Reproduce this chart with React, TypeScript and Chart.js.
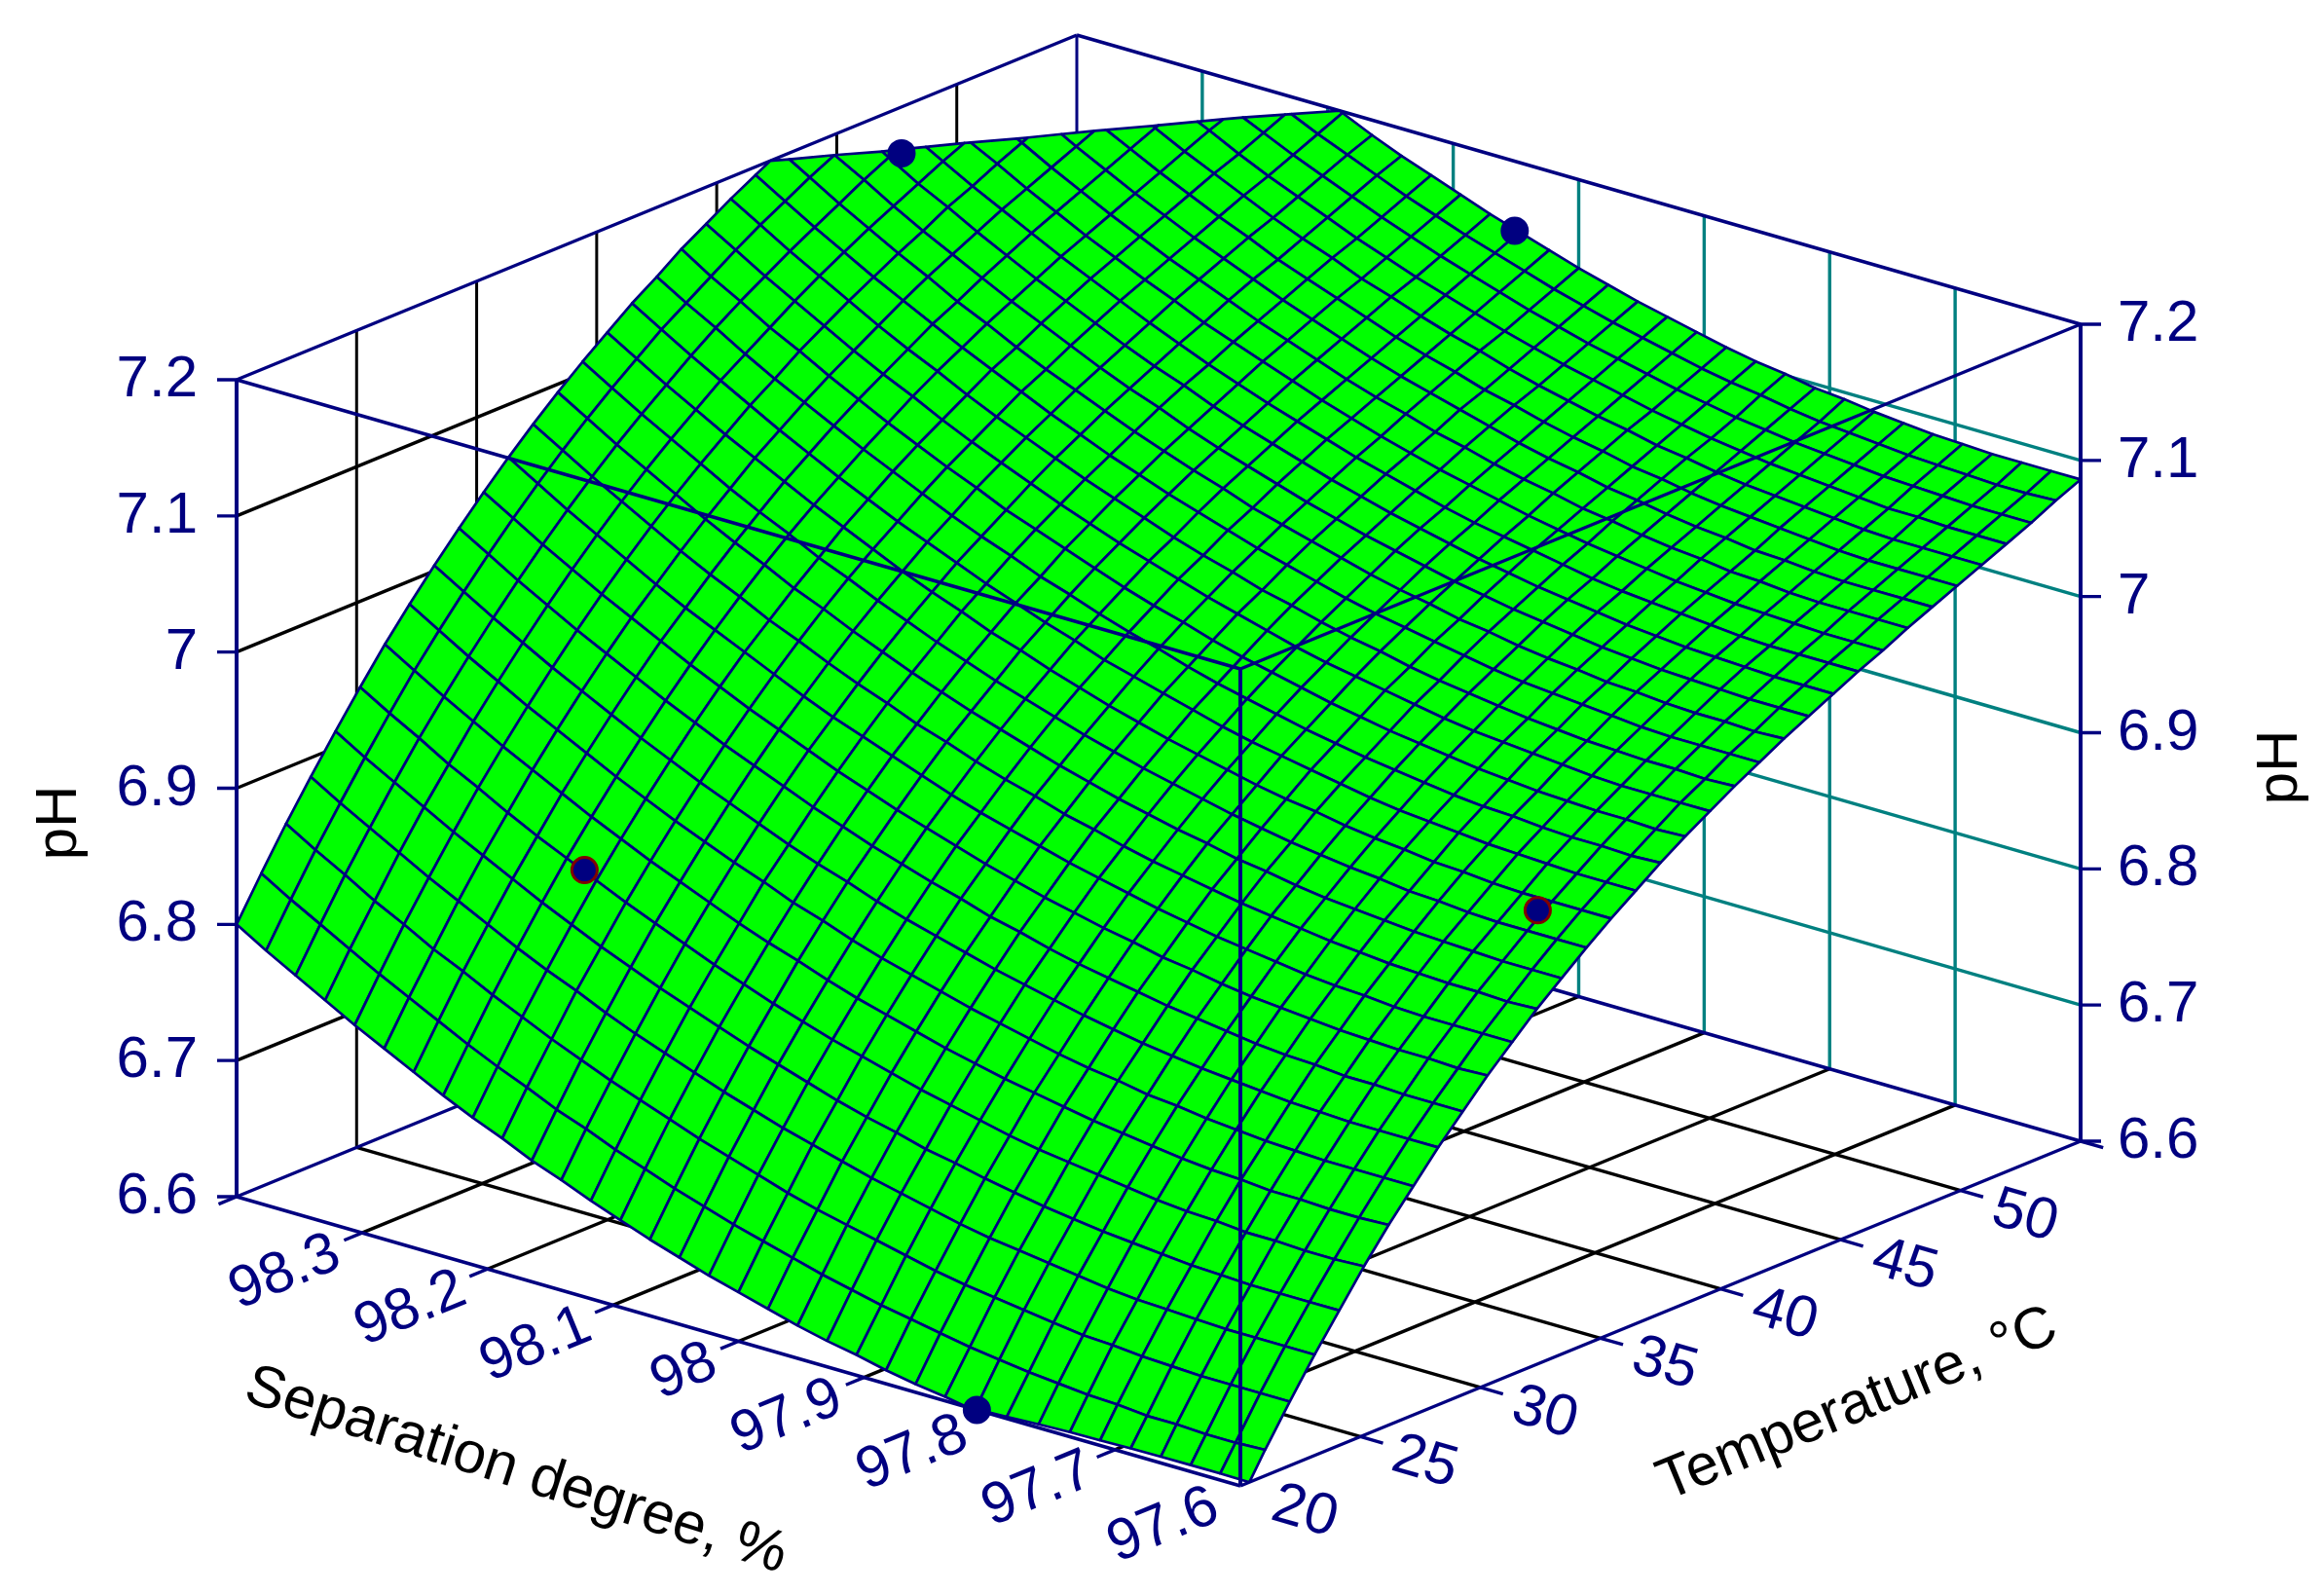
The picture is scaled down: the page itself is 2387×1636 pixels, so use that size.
import React, { useEffect, useRef } from "react";
import { Chart, registerables } from "chart.js";
Chart.register(...registerables);

const W = 2387, H = 1636;
const temperatureTicks = [20, 25, 30, 35, 40, 45, 50];
const separationTicks = [97.6, 97.7, 97.8, 97.9, 98.0, 98.1, 98.2, 98.3];
const separationLabels = ["97.6", "97.7", "97.8", "97.9", "98", "98.1", "98.2", "98.3"];
const phTicks = [6.6, 6.7, 6.8, 6.9, 7.0, 7.1, 7.2];
const phLabels = ["6.6", "6.7", "6.8", "6.9", "7", "7.1", "7.2"];
const T0 = 20, T1 = 55, S0 = 97.6, S1 = 98.4, P0 = 6.6, P1 = 7.2;
const designPoints = [
  { T: 47.7, S: 98.4, P: 7.166, under: false },
  { T: 55, S: 98.051, P: 7.149, under: false },
  { T: 20, S: 97.81, P: 6.6, under: false },
  { T: 25.4, S: 98.226, P: 6.847, under: true },
  { T: 35, S: 97.65, P: 6.901, under: true },
];
// pH read from the surface: one list per separation-degree grid line (97.6 → 98.4), temperature 20 → 55 along each list
const row00 = [6.589,6.619,6.647,6.674,6.699,6.724,6.747,6.768,6.789,6.808,6.827,6.844,6.861,6.876,6.891,6.905,6.918,6.931,6.943,6.954,6.965,6.975,6.985,6.994,7.003,7.012,7.020,7.029,7.037,7.045,7.053,7.061,7.069,7.078,7.086];
const row01 = [6.589,6.618,6.647,6.674,6.699,6.723,6.746,6.768,6.789,6.808,6.826,6.844,6.860,6.876,6.891,6.905,6.918,6.930,6.942,6.954,6.964,6.975,6.984,6.994,7.003,7.012,7.020,7.029,7.037,7.045,7.053,7.061,7.069,7.077,7.086];
const row02 = [6.589,6.618,6.647,6.674,6.699,6.723,6.746,6.768,6.789,6.808,6.827,6.844,6.861,6.876,6.891,6.905,6.918,6.931,6.943,6.954,6.965,6.975,6.985,6.994,7.003,7.012,7.020,7.029,7.037,7.045,7.053,7.061,7.069,7.077,7.086];
const row03 = [6.589,6.619,6.647,6.674,6.699,6.724,6.747,6.768,6.789,6.809,6.827,6.844,6.861,6.877,6.891,6.905,6.919,6.931,6.943,6.954,6.965,6.975,6.985,6.995,7.004,7.012,7.021,7.029,7.037,7.045,7.053,7.062,7.070,7.078,7.086];
const row04 = [6.590,6.619,6.648,6.675,6.700,6.724,6.747,6.769,6.790,6.809,6.828,6.845,6.862,6.878,6.892,6.906,6.920,6.932,6.944,6.955,6.966,6.976,6.986,6.996,7.005,7.013,7.022,7.030,7.038,7.046,7.054,7.062,7.071,7.079,7.087];
const row05 = [6.591,6.621,6.649,6.676,6.701,6.726,6.749,6.770,6.791,6.811,6.829,6.847,6.863,6.879,6.894,6.908,6.921,6.934,6.945,6.957,6.967,6.978,6.988,6.997,7.006,7.015,7.023,7.032,7.040,7.048,7.056,7.064,7.072,7.080,7.088];
const row06 = [6.592,6.622,6.651,6.677,6.703,6.727,6.750,6.772,6.793,6.812,6.831,6.848,6.865,6.881,6.895,6.909,6.923,6.935,6.947,6.959,6.969,6.980,6.989,6.999,7.008,7.017,7.025,7.033,7.041,7.050,7.058,7.066,7.074,7.082,7.090];
const row07 = [6.594,6.624,6.652,6.679,6.705,6.729,6.752,6.774,6.795,6.814,6.833,6.850,6.867,6.883,6.898,6.912,6.925,6.937,6.949,6.961,6.971,6.982,6.992,7.001,7.010,7.019,7.027,7.036,7.044,7.052,7.060,7.068,7.076,7.084,7.092];
const row08 = [6.597,6.626,6.655,6.682,6.707,6.732,6.755,6.777,6.797,6.817,6.835,6.853,6.870,6.885,6.900,6.914,6.927,6.940,6.952,6.963,6.974,6.984,6.994,7.004,7.013,7.021,7.030,7.038,7.046,7.054,7.062,7.070,7.078,7.086,7.095];
const row09 = [6.599,6.629,6.658,6.685,6.710,6.735,6.758,6.779,6.800,6.820,6.838,6.856,6.873,6.888,6.903,6.917,6.930,6.943,6.955,6.966,6.977,6.987,6.997,7.007,7.016,7.024,7.033,7.041,7.049,7.057,7.065,7.073,7.081,7.089,7.097];
const row10 = [6.603,6.632,6.661,6.688,6.713,6.738,6.761,6.783,6.803,6.823,6.842,6.859,6.876,6.892,6.906,6.921,6.934,6.946,6.958,6.970,6.980,6.991,7.001,7.010,7.019,7.028,7.036,7.045,7.053,7.061,7.069,7.076,7.084,7.093,7.101];
const row11 = [6.606,6.636,6.664,6.691,6.717,6.741,6.765,6.786,6.807,6.827,6.845,6.863,6.880,6.895,6.910,6.924,6.938,6.950,6.962,6.974,6.984,6.995,7.004,7.014,7.023,7.032,7.040,7.048,7.056,7.064,7.072,7.080,7.088,7.096,7.104];
const row12 = [6.610,6.640,6.668,6.695,6.721,6.745,6.769,6.790,6.811,6.831,6.850,6.867,6.884,6.900,6.914,6.928,6.942,6.954,6.966,6.978,6.989,6.999,7.009,7.018,7.027,7.036,7.044,7.053,7.061,7.069,7.077,7.084,7.092,7.100,7.108];
const row13 = [6.615,6.644,6.673,6.700,6.726,6.750,6.773,6.795,6.816,6.835,6.854,6.872,6.888,6.904,6.919,6.933,6.946,6.959,6.971,6.982,6.993,7.003,7.013,7.023,7.032,7.040,7.049,7.057,7.065,7.073,7.081,7.089,7.097,7.105,7.113];
const row14 = [6.619,6.649,6.678,6.705,6.730,6.755,6.778,6.800,6.821,6.840,6.859,6.877,6.893,6.909,6.924,6.938,6.951,6.964,6.976,6.987,6.998,7.008,7.018,7.028,7.037,7.045,7.054,7.062,7.070,7.078,7.086,7.094,7.102,7.110,7.118];
const row15 = [6.624,6.654,6.683,6.710,6.736,6.760,6.783,6.805,6.826,6.846,6.864,6.882,6.899,6.914,6.929,6.943,6.957,6.969,6.981,6.993,7.004,7.014,7.024,7.033,7.042,7.051,7.059,7.068,7.076,7.084,7.091,7.099,7.107,7.115,7.123];
const row16 = [6.630,6.660,6.688,6.716,6.741,6.766,6.789,6.811,6.832,6.851,6.870,6.888,6.904,6.920,6.935,6.949,6.963,6.975,6.987,6.999,7.009,7.020,7.030,7.039,7.048,7.057,7.065,7.073,7.082,7.089,7.097,7.105,7.113,7.121,7.129];
const row17 = [6.636,6.666,6.694,6.722,6.747,6.772,6.795,6.817,6.838,6.858,6.876,6.894,6.911,6.926,6.941,6.955,6.969,6.982,6.994,7.005,7.016,7.026,7.036,7.045,7.054,7.063,7.071,7.080,7.088,7.096,7.104,7.111,7.119,7.127,7.135];
const row18 = [6.642,6.672,6.701,6.728,6.754,6.778,6.801,6.823,6.844,6.864,6.883,6.900,6.917,6.933,6.948,6.962,6.975,6.988,7.000,7.012,7.022,7.033,7.042,7.052,7.061,7.070,7.078,7.086,7.094,7.102,7.110,7.118,7.126,7.134,7.142];
const row19 = [6.649,6.679,6.708,6.735,6.761,6.785,6.808,6.830,6.851,6.871,6.890,6.907,6.924,6.940,6.955,6.969,6.983,6.995,7.007,7.019,7.029,7.040,7.050,7.059,7.068,7.077,7.085,7.093,7.101,7.109,7.117,7.125,7.133,7.141,7.149];
const row20 = [6.656,6.686,6.715,6.742,6.768,6.792,6.816,6.838,6.859,6.878,6.897,6.915,6.932,6.947,6.962,6.977,6.990,7.003,7.015,7.026,7.037,7.047,7.057,7.066,7.075,7.084,7.093,7.101,7.109,7.117,7.125,7.132,7.140,7.148,7.156];
const row21 = [6.664,6.694,6.723,6.750,6.776,6.800,6.823,6.845,6.866,6.886,6.905,6.923,6.939,6.955,6.970,6.984,6.998,7.010,7.023,7.034,7.045,7.055,7.065,7.074,7.083,7.092,7.101,7.109,7.117,7.125,7.132,7.140,7.148,7.156,7.164];
const row22 = [6.672,6.702,6.731,6.758,6.784,6.808,6.831,6.854,6.874,6.894,6.913,6.931,6.948,6.963,6.978,6.993,7.006,7.019,7.031,7.042,7.053,7.063,7.073,7.083,7.092,7.100,7.109,7.117,7.125,7.133,7.141,7.148,7.156,7.164,7.172];
const row23 = [6.681,6.711,6.739,6.766,6.792,6.817,6.840,6.862,6.883,6.903,6.922,6.939,6.956,6.972,6.987,7.001,7.015,7.027,7.039,7.051,7.062,7.072,7.082,7.091,7.100,7.109,7.117,7.126,7.134,7.141,7.149,7.157,7.165,7.173,7.180];
const row24 = [6.689,6.719,6.748,6.775,6.801,6.826,6.849,6.871,6.892,6.912,6.931,6.948,6.965,6.981,6.996,7.010,7.024,7.036,7.049,7.060,7.071,7.081,7.091,7.100,7.109,7.118,7.127,7.135,7.143,7.151,7.158,7.166,7.174,7.182,7.189];
const row25 = [6.699,6.729,6.757,6.785,6.810,6.835,6.858,6.880,6.901,6.921,6.940,6.958,6.975,6.991,7.006,7.020,7.033,7.046,7.058,7.069,7.080,7.091,7.100,7.110,7.119,7.128,7.136,7.144,7.152,7.160,7.168,7.175,7.183,7.191,7.199];
const row26 = [6.708,6.738,6.767,6.794,6.820,6.845,6.868,6.890,6.911,6.931,6.950,6.968,6.984,7.000,7.015,7.030,7.043,7.056,7.068,7.079,7.090,7.101,7.110,7.120,7.129,7.138,7.146,7.154,7.162,7.170,7.178,7.185,7.193,7.201,7.209];
const row27 = [6.718,6.748,6.777,6.804,6.830,6.855,6.878,6.900,6.921,6.941,6.960,6.978,6.995,7.011,7.026,7.040,7.053,7.066,7.078,7.090,7.101,7.111,7.121,7.130,7.139,7.148,7.156,7.164,7.172,7.180,7.188,7.196,7.203,7.211,7.219];
const row28 = [6.729,6.759,6.788,6.815,6.841,6.865,6.889,6.911,6.932,6.952,6.971,6.988,7.005,7.021,7.036,7.051,7.064,7.077,7.089,7.100,7.111,7.122,7.131,7.141,7.150,7.159,7.167,7.175,7.183,7.191,7.199,7.206,7.214,7.222,7.229];
const row29 = [6.740,6.770,6.798,6.826,6.852,6.876,6.900,6.922,6.943,6.963,6.982,6.999,7.016,7.032,7.047,7.062,7.075,7.088,7.100,7.111,7.122,7.133,7.143,7.152,7.161,7.170,7.178,7.186,7.194,7.202,7.210,7.217,7.225,7.233,7.240];
const row30 = [6.751,6.781,6.810,6.837,6.863,6.888,6.911,6.933,6.954,6.974,6.993,7.011,7.028,7.044,7.059,7.073,7.087,7.099,7.112,7.123,7.134,7.144,7.154,7.163,7.173,7.181,7.190,7.198,7.206,7.213,7.221,7.229,7.236,7.244,7.252];
const row31 = [6.763,6.793,6.821,6.849,6.875,6.899,6.923,6.945,6.966,6.986,7.005,7.023,7.040,7.056,7.071,7.085,7.099,7.111,7.123,7.135,7.146,7.156,7.166,7.175,7.184,7.193,7.201,7.210,7.218,7.225,7.233,7.241,7.248,7.256,7.264];
const row32 = [6.775,6.805,6.834,6.861,6.887,6.912,6.935,6.957,6.978,6.998,7.017,7.035,7.052,7.068,7.083,7.097,7.111,7.124,7.136,7.147,7.158,7.168,7.178,7.188,7.197,7.205,7.214,7.222,7.230,7.238,7.245,7.253,7.260,7.268,7.276];
const row33 = [6.787,6.817,6.846,6.873,6.899,6.924,6.948,6.970,6.991,7.011,7.030,7.048,7.065,7.081,7.096,7.110,7.124,7.136,7.148,7.160,7.171,7.181,7.191,7.200,7.210,7.218,7.227,7.235,7.243,7.250,7.258,7.266,7.273,7.281,7.288];
const row34 = [6.800,6.830,6.859,6.886,6.912,6.937,6.961,6.983,7.004,7.024,7.043,7.061,7.078,7.094,7.109,7.123,7.137,7.149,7.162,7.173,7.184,7.194,7.204,7.214,7.223,7.231,7.240,7.248,7.256,7.263,7.271,7.279,7.286,7.294,7.301];
const phGrid = [row00,row01,row02,row03,row04,row05,row06,row07,row08,row09,row10,row11,row12,row13,row14,row15,row16,row17,row18,row19,row20,row21,row22,row23,row24,row25,row26,row27,row28,row29,row30,row31,row32,row33,row34];
const N = phGrid.length - 1;

const NAVY = "#000080", TEAL = "#008080", BLACK = "#000000", GREEN = "#00FF00";
const px = (T: number, S: number, P: number) => ({
  x: 1274 + ((T - T0) / (T1 - T0)) * 863 - ((S - S0) / (S1 - S0)) * 1031,
  y: 1526 - ((T - T0) / (T1 - T0)) * 354 - ((S - S0) / (S1 - S0)) * 297 - ((P - P0) / (P1 - P0)) * 839,
});
type V = { T: number; S: number; P: number };
function clipPoly(poly: V[], limit: number, keepBelow: boolean): V[] {
  const inside = (v: V) => (keepBelow ? v.P <= limit : v.P >= limit);
  const out: V[] = [];
  poly.forEach((a, i) => {
    const b = poly[(i + 1) % poly.length];
    if (inside(a)) out.push(a);
    if (inside(a) !== inside(b)) {
      const k = (limit - a.P) / (b.P - a.P);
      out.push({ T: a.T + k * (b.T - a.T), S: a.S + k * (b.S - a.S), P: limit });
    }
  });
  return out;
}
function line(points: V[], color: string, width: number) {
  return { data: points.map((p) => px(p.T, p.S, p.P)), showLine: true, borderColor: color, borderWidth: width, pointRadius: 0, fill: false, tension: 0, borderJoinStyle: "round", borderCapStyle: "butt" };
}
function seg(a: number[], b: number[], color: string, width: number) {
  return line([{ T: a[0], S: a[1], P: a[2] }, { T: b[0], S: b[1], P: b[2] }], color, width);
}
function buildLayers() {
  const l: any[] = [];
  const tIn = temperatureTicks.slice(1), sIn = separationTicks.slice(1);
  tIn.forEach((T) => { l.push(seg([T, S1, P0], [T, S1, P1], BLACK, 3)); l.push(seg([T, S0, P0], [T, S1, P0], BLACK, 3.4)); });
  sIn.forEach((S) => { l.push(seg([T1, S, P0], [T1, S, P1], TEAL, 3.4)); l.push(seg([T0, S, P0], [T1, S, P0], BLACK, 3.4)); });
  phTicks.slice(1, -1).forEach((P) => { l.push(seg([T0, S1, P], [T1, S1, P], BLACK, 3.4)); l.push(seg([T1, S0, P], [T1, S1, P], TEAL, 3.4)); });
  l.push(seg([T0, S1, P0], [T1, S1, P0], NAVY, 3.4));
  l.push(seg([T1, S0, P0], [T1, S1, P0], NAVY, 3.4));
  l.push(seg([T1, S1, P0], [T1, S1, P1], NAVY, 3));
  l.push(seg([T0, S1, P1], [T1, S1, P1], NAVY, 3.4));
  l.push(seg([T1, S0, P1], [T1, S1, P1], NAVY, 3.4));
  l.push(seg([T0, S1, P0], [T0, S1, P1], NAVY, 4));
  l.push(seg([T1, S0, P0], [T1, S0, P1], NAVY, 4));
  for (let j = N - 1; j >= 0; j--) for (let i = N - 1; i >= 0; i--) {
    const v = (a: number, b: number): V => ({ T: T0 + ((T1 - T0) * a) / N, S: S0 + ((S1 - S0) * b) / N, P: phGrid[b][a] });
    let poly: V[] = [v(i, j), v(i + 1, j), v(i + 1, j + 1), v(i, j + 1)];
    poly = clipPoly(poly, P1, true);
    if (poly.length) poly = clipPoly(poly, P0, false);
    if (poly.length < 3) continue;
    const d = line([...poly, poly[0]], NAVY, 2.7);
    (d as any).surfaceCell = true;
    l.push(d);
  }
  l.push(seg([T0, S0, P0], [T0, S1, P0], NAVY, 3.4));
  l.push(seg([T0, S0, P0], [T1, S0, P0], NAVY, 3.4));
  l.push(seg([T0, S0, P0], [T0, S0, P1], NAVY, 4));
  l.push(seg([T0, S0, P1], [T0, S1, P1], NAVY, 3.4));
  l.push(seg([T0, S0, P1], [T1, S0, P1], NAVY, 3.4));
  separationTicks.concat([S1]).forEach((S) => { if (S !== S0) l.push(seg([T0, S, P0], [T0 - 0.75, S, P0], NAVY, 3.4)); });
  temperatureTicks.concat([T1]).forEach((T) => { if (T !== T0) l.push(seg([T, S0, P0], [T, S0 - 0.018, P0], NAVY, 3.4)); });
  return l;
}
const surfacePlugin = {
  id: "surfaceFill",
  beforeDatasetDraw(chart: any, args: any) {
    const ds = chart.data.datasets[args.index];
    if (!ds.surfaceCell) return;
    const ctx = chart.ctx, pts = args.meta.data;
    ctx.save(); ctx.beginPath();
    pts.forEach((p: any, i: number) => (i ? ctx.lineTo(p.x, p.y) : ctx.moveTo(p.x, p.y)));
    ctx.closePath(); ctx.fillStyle = GREEN; ctx.fill(); ctx.restore();
  },
};
const textPlugin = {
  id: "labels3d",
  afterDraw(chart: any) {
    const ctx = chart.ctx, X = chart.scales.x, Y = chart.scales.y;
    const at = (T: number, S: number, P: number) => { const p = px(T, S, P); return { x: X.getPixelForValue(p.x), y: Y.getPixelForValue(p.y) }; };
    const FONT = '60px "Liberation Sans"';
    ctx.save(); ctx.font = FONT; ctx.fillStyle = NAVY; ctx.textBaseline = "alphabetic";
    phTicks.forEach((P, k) => {
      const a = at(T0, S1, P); ctx.textAlign = "right"; ctx.fillText(phLabels[k], a.x - 40, a.y + 17);
      const b = at(T1, S0, P); ctx.textAlign = "left"; ctx.fillText(phLabels[k], b.x + 38, b.y + 17);
      ctx.strokeStyle = NAVY; ctx.lineWidth = 3.4; ctx.beginPath(); ctx.moveTo(a.x - 20, a.y); ctx.lineTo(a.x, a.y); ctx.moveTo(b.x, b.y); ctx.lineTo(b.x + 21, b.y); ctx.stroke();
    });
    const draw = (s: string, x: number, y: number, ang: number, align: string, color: string, font = FONT) => {
      ctx.save(); ctx.translate(x, y); ctx.rotate(ang); ctx.font = font; ctx.fillStyle = color; ctx.textAlign = align; ctx.textBaseline = "middle"; ctx.fillText(s, 0, 0); ctx.restore();
    };
    const sepAng = Math.atan2(297, 1031), tAng = Math.atan2(-354, 863);
    separationTicks.forEach((S, k) => { const a = at(T0, S, P0); draw(separationLabels[k], a.x - 25, a.y + 19, tAng, "right", NAVY); });
    temperatureTicks.forEach((T) => { const a = at(T, S0, P0); draw(String(T), a.x + 66, a.y + 27, sepAng, "center", NAVY); });
    draw("Separation degree, %", 530, 1511, sepAng + 0.03, "center", BLACK);
    draw("Temperature, °C", 1908, 1443, tAng, "center", BLACK);
    draw("pH", 61, 845, -Math.PI / 2, "center", BLACK);
    draw("pH", 2342, 788, -Math.PI / 2, "center", BLACK);
    ctx.restore();
  },
};
export default function App() {
  const ref = useRef<HTMLCanvasElement>(null);
  useEffect(() => {
    const layers = buildLayers();
    designPoints.forEach((d) => {
      layers.push({ data: [px(d.T, d.S, d.P)], showLine: false, pointRadius: 13, pointBackgroundColor: NAVY, pointBorderColor: d.under ? "#800000" : NAVY, pointBorderWidth: 3 });
    });
    layers.forEach((d, i) => { d.order = layers.length - i; });
    const chart = new Chart(ref.current!, {
      type: "scatter",
      data: { datasets: layers },
      options: {
        animation: false, responsive: false, devicePixelRatio: 1, parsing: false, normalized: true, events: [],
        layout: { padding: 0, autoPadding: false },
        plugins: { legend: { display: false }, tooltip: { enabled: false } },
        scales: { x: { type: "linear", display: false, min: 0, max: W }, y: { type: "linear", display: false, min: 0, max: H, reverse: true } },
      } as any,
      plugins: [surfacePlugin, textPlugin],
    });
    return () => chart.destroy();
  }, []);
  return <div style={{ position: "fixed", left: 0, top: 0, width: W, height: H, background: "#fff" }}><canvas ref={ref} width={W} height={H} style={{ display: "block" }} /></div>;
}
